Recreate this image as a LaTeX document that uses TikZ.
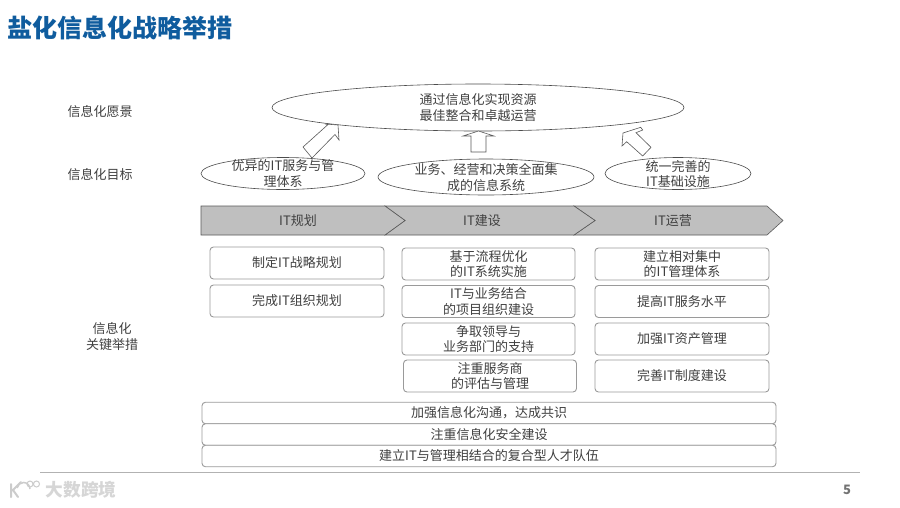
\documentclass[tikz,border=0pt]{standalone}
\usepackage{fontspec}
\setmainfont{Noto Sans CJK SC}
\usetikzlibrary{shapes.geometric}
\definecolor{txt}{HTML}{404040}
\definecolor{titleblue}{HTML}{0F5C9E}
\definecolor{boxline}{HTML}{9A9A9A}
\definecolor{chev}{HTML}{BFBFBF}
\tikzset{
  x=1pt,y=-1pt,
  every node/.style={text=txt,font=\fontsize{13}{15.5}\selectfont,align=center,inner sep=0pt},
  oval/.style={draw=black!70,line width=0.6pt,ellipse,fill=none},
  rbox/.style={draw=boxline,line width=0.9pt,rounded corners=3.5pt,fill=white,minimum height=32pt,minimum width=174pt},
  wbox/.style={draw=boxline,line width=0.9pt,rounded corners=3.5pt,fill=white,minimum height=21.5pt,minimum width=574pt},
  chevron/.style={fill=chev,draw=black!65,line width=0.6pt,line join=miter},
  blockarrow/.style={draw=black!65,line width=0.6pt,fill=white,line join=miter},
}
\begin{document}
\begin{tikzpicture}
\useasboundingbox (0,0) rectangle (900,507);
\fill[white] (0,0) rectangle (900,507);
% title
\node[text=titleblue,font=\fontsize{25}{28}\selectfont\bfseries,anchor=west] (title) at (7,28) {盐化信息化战略举措};
% left labels
\node (l1) at (100,111.5) {信息化愿景};
\node (l2) at (100,174.5) {信息化目标};
\node (l3) at (112,336.5) {信息化\\关键举措};
% ellipses
\node[oval,minimum width=412pt,minimum height=47pt] (vision) at (478,107.5) {通过信息化实现资源\\最佳整合和卓越运营};
\node[oval,minimum width=164pt,minimum height=32pt] (g1) at (283,173.5) {};
\node at (283,173.5) {优异的IT服务与管\\理体系};
\node[oval,minimum width=216pt,minimum height=36pt] (g2) at (486,177) {};
\node at (486,177.5) {业务、经营和决策全面集\\成的信息系统};
\node[oval,minimum width=146pt,minimum height=32pt] (g3) at (678,173.5) {};
\node at (678,174) {统一完善的\\IT基础设施};
% block arrows
\draw[blockarrow] (303,147) -- (328,124.5) -- (325,124) -- (338,125) -- (339,140) -- (335,134.5) -- (312,158) -- cycle;
\draw[blockarrow] (471,152) -- (471,136) -- (463,136) -- (478.5,131) -- (494,136) -- (486,136) -- (486,152) -- cycle;
\draw[blockarrow] (651,147.3) -- (636,132.7) -- (642.7,130) -- (640.7,127.3) -- (623,133) -- (622,146) -- (626.7,141.7) -- (642.7,156) -- cycle;
% chevrons
\draw[chevron] (574,206) -- (767,206) -- (783,220.5) -- (767,235) -- (574,235) -- (595,220.5) -- cycle;
\draw[chevron] (385,206) -- (574,206) -- (595,220.5) -- (574,235) -- (385,235) -- (405,220.5) -- cycle;
\draw[chevron] (201,206) -- (385,206) -- (405,220.5) -- (385,235) -- (201,235) -- cycle;
\node (c1) at (298,221) {IT规划};
\node (c2) at (482,221) {IT建设};
\node (c3) at (673,221) {IT运营};
% column 1
\node[rbox] (a1) at (297,263) {制定IT战略规划};
\node[rbox] (a2) at (297,301) {完成IT组织规划};
% column 2
\node[rbox,minimum width=173pt] (b1) at (488.5,264) {基于流程优化\\的IT系统实施};
\node[rbox,minimum width=173pt] (b2) at (488.5,301.5) {IT与业务结合\\的项目组织建设};
\node[rbox,minimum width=173pt] (b3) at (488.5,339) {争取领导与\\业务部门的支持};
\node[rbox,minimum width=173pt] (b4) at (490,376) {注重服务商\\的评估与管理};
% column 3
\node[rbox] (d1) at (682,264) {建立相对集中\\的IT管理体系};
\node[rbox] (d2) at (682,301.5) {提高IT服务水平};
\node[rbox] (d3) at (682,339) {加强IT资产管理};
\node[rbox] (d4) at (682,376) {完善IT制度建设};
% wide boxes
\node[wbox] (w1) at (489,413) {加强信息化沟通，达成共识};
\node[wbox] (w2) at (489,434.5) {注重信息化安全建设};
\node[wbox] (w3) at (489,456) {建立IT与管理相结合的复合型人才队伍};
% footer
\draw[black!30,line width=0.8pt] (40,472) -- (860,472);
\node[text=black!55,font=\fontsize{13}{15}\selectfont\bfseries] (page) at (847,490) {5};
% logo
\node[text=black!16,font=\fontsize{17.7}{20}\selectfont\bfseries] (lg) at (81,490) {大数跨境};
\draw[black!20,line width=2pt,line cap=round] (11,484) -- (11,497) (21,482) -- (13,490) -- (18,497);
\draw[black!20,line width=1.5pt] (30,489) arc (0:-170:6.5);
\draw[black!20,line width=1pt] (30,484) circle (3) (36.5,484) circle (3);
\end{tikzpicture}
\end{document}
